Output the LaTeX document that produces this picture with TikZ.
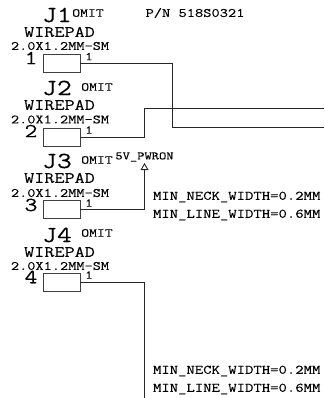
\documentclass[tikz,border=0pt]{standalone}
\usepackage{fontspec}
\setmonofont[FakeStretch=1.25,FakeBold=0.1]{Latin Modern Mono}
\usepackage{tikz}
\usetikzlibrary{calc}
\usetikzlibrary{arrows}
\tikzset{inv/.style={inner sep=0pt,outer sep=0pt}}
\tikzset{pad/.style={draw=black!75,line width=0.9pt,minimum width=37pt,minimum height=18pt,inner sep=0pt,outer sep=0pt}}
\tikzset{wire/.style={draw=black!85,line width=0.9pt}}
\tikzset{refdes/.style={inv,font=\ttfamily\fontsize{23}{23}\selectfont}}
\tikzset{pinnum/.style={inv,font=\ttfamily\fontsize{20}{20}\selectfont}}
\tikzset{omit/.style={inv,font=\ttfamily\fontsize{12.2}{13}\selectfont}}
\tikzset{wirepad/.style={inv,font=\ttfamily\fontsize{15.7}{16}\selectfont}}
\tikzset{size/.style={inv,font=\ttfamily\fontsize{12.7}{13}\selectfont}}
\tikzset{pinone/.style={inv,font=\ttfamily\fontsize{12}{12}\selectfont}}
\tikzset{rule/.style={inv,anchor=west,font=\ttfamily\fontsize{13}{13}\selectfont}}

\begin{document}
\begin{tikzpicture}[x=1pt,y=-1pt]
\useasboundingbox (0,0) rectangle (324,398);

\node[refdes] (J1) at (57,15) {J1};
\node[omit] (omit1) at (88,13) {OMIT};
\node[inv,font=\ttfamily\fontsize{12.8}{13}\selectfont] (pn) at (195,13) {P/N 518S0321};
\node[wirepad] (wp1) at (59.5,32) {WIREPAD};
\node[size] (sz1) at (60,46) {2.0X1.2MM-SM};
\node[pinnum] (num1) at (31,58) {1};
\node[pad] (pad1) at (61.5,63) {};
\node[pinone] (one1) at (89,56.5) {1};

\node[refdes] (J2) at (57,88) {J2};
\node[omit] (omit2) at (97,87) {OMIT};
\node[wirepad] (wp2) at (59.5,105) {WIREPAD};
\node[size] (sz2) at (60,119.5) {2.0X1.2MM-SM};
\node[pinnum] (num2) at (31,131) {2};
\node[pad] (pad2) at (61.5,137) {};
\node[pinone] (one2) at (89,130) {1};

\node[refdes] (J3) at (57,161) {J3};
\node[omit] (omit3) at (97,160) {OMIT};
\node[inv,font=\ttfamily\fontsize{11.3}{12}\selectfont] (pwron) at (144.5,157) {5V\_PWRON};
\node[wirepad] (wp3) at (59.5,178) {WIREPAD};
\node[size] (sz3) at (60,193) {2.0X1.2MM-SM};
\node[pinnum] (num3) at (31,205) {3};
\node[pad] (pad3) at (61.5,209.5) {};
\node[pinone] (one3) at (89,203) {1};
\node[rule] (neck1) at (153,197) {MIN\_NECK\_WIDTH=0.2MM};
\node[rule] (line1) at (153,215) {MIN\_LINE\_WIDTH=0.6MM};

\node[refdes] (J4) at (57,235) {J4};
\node[omit] (omit4) at (97,233) {OMIT};
\node[wirepad] (wp4) at (59.5,252) {WIREPAD};
\node[size] (sz4) at (60,266) {2.0X1.2MM-SM};
\node[pinnum] (num4) at (31,277) {4};
\node[pad] (pad4) at (61.5,282) {};
\node[pinone] (one4) at (89,275) {1};
\node[rule] (neck2) at (153,371) {MIN\_NECK\_WIDTH=0.2MM};
\node[rule] (line2) at (153,389) {MIN\_LINE\_WIDTH=0.6MM};

\coordinate (endA) at (324,127);
\coordinate (endB) at (324,108.5);
\coordinate (endC) at (144.5,163);
\coordinate (endD) at (144.5,398);

\draw[wire] (pad1.east) -- (172,63) -- (172,127) -- (endA);
\draw[wire] (pad2.east) -- (144.5,137) -- (144.5,108.5) -- (endB);
\draw[wire,-open triangle 60] (pad3.east) -- (144.5,209.5) -- (endC);
\draw[wire] (pad4.east) -- (144.5,282) -- (endD);

\end{tikzpicture}
\end{document}
